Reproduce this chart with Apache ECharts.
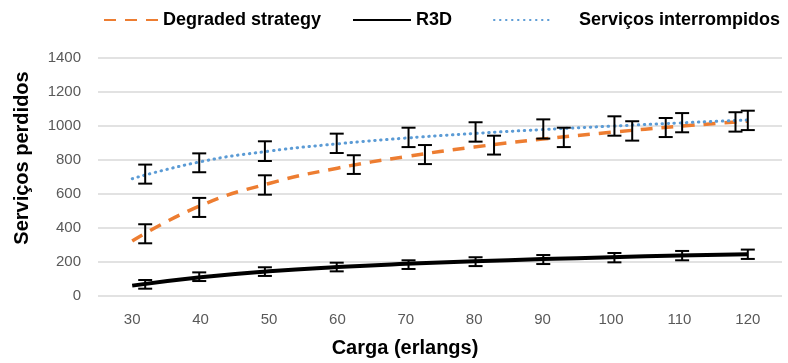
<!DOCTYPE html>
<html>
<head>
<meta charset="utf-8">
<script src="https://cdn.jsdelivr.net/npm/echarts@6/dist/echarts.min.js"></script>
<style>
html,body{margin:0;padding:0;background:#fff;}
#c{width:788px;height:363px;}
</style>
</head>
<body>
<div id="c"></div>
<script>
// ---- data ----
const seriesNames = ['Degraded strategy', 'R3D', 'Serviços interrompidos'];
const xTickLabels = [30, 40, 50, 60, 70, 80, 90, 100, 110, 120];
const yTickLabels = [0, 200, 400, 600, 800, 1000, 1200, 1400];

// trend curves
const curveX = [30, 40, 50, 60, 70, 80, 90, 100, 110, 120];
const degradedCurve = [324, 532, 662, 752, 820, 876, 923, 963, 998, 1029];
const r3dCurve = [61, 110, 145, 170, 189, 204, 217, 228, 238, 246];
const interCurve = [690, 790, 852, 895, 929, 956, 979, 999, 1018, 1035];

// error bars (x, low, high)
const degradedX = [31.9, 39.8, 49.4, 62.4, 72.8, 82.9, 93.1, 103.1, 110.4, 120.0];
const degradedLow = [310, 465, 596, 718, 776, 832, 876, 914, 963, 976];
const degradedHigh = [422, 577, 710, 828, 888, 943, 990, 1028, 1076, 1090];

const r3dX = [31.9, 39.8, 49.4, 59.9, 70.4, 80.2, 90.1, 100.5, 110.4, 120.0];
const r3dLow = [43, 88, 118, 145, 159, 176, 188, 198, 210, 218];
const r3dHigh = [94, 139, 169, 196, 210, 228, 241, 253, 265, 273];

const interX = [31.9, 39.8, 49.4, 59.9, 70.4, 80.2, 90.1, 100.5, 108.0, 118.2];
const interLow = [661, 728, 794, 841, 876, 908, 926, 943, 935, 967];
const interHigh = [773, 839, 910, 955, 990, 1022, 1039, 1057, 1047, 1081];

// ---- build ----
const zip = (xs, ys) => xs.map((x, i) => [x, ys[i]]);
const zip3 = (xs, lo, hi) => xs.map((x, i) => [x, lo[i], hi[i]]);

const errAll = [].concat(
  zip3(degradedX, degradedLow, degradedHigh),
  zip3(r3dX, r3dLow, r3dHigh),
  zip3(interX, interLow, interHigh)
);

function renderErr(params, api) {
  const x = api.value(0);
  const lo = api.coord([x, api.value(1)]);
  const hi = api.coord([x, api.value(2)]);
  const hw = 7;
  const st = { stroke: '#000', lineWidth: 2 };
  return {
    type: 'group',
    children: [
      { type: 'line', shape: { x1: lo[0], y1: lo[1], x2: hi[0], y2: hi[1] }, style: st },
      { type: 'line', shape: { x1: lo[0] - hw, y1: lo[1], x2: lo[0] + hw, y2: lo[1] }, style: st },
      { type: 'line', shape: { x1: hi[0] - hw, y1: hi[1], x2: hi[0] + hw, y2: hi[1] }, style: st }
    ]
  };
}

const FONT = '"Liberation Sans", Arial, sans-serif';
const legendText = { fontFamily: FONT, fontWeight: 'bold', fontSize: 18, color: '#000' };
const noSym = { opacity: 0, color: 'transparent', borderWidth: 0 };

const chart = echarts.init(document.getElementById('c'), null, { renderer: 'canvas' });
chart.setOption({
  animation: false,
  backgroundColor: '#fff',
  grid: { left: 98, right: 6, top: 58, bottom: 67 },
  legend: [
    { data: [seriesNames[0]], left: 103, top: 11, itemWidth: 54, itemHeight: 14, itemStyle: noSym, textStyle: legendText, padding: 0 },
    { data: [seriesNames[1]], left: 352, top: 11, itemWidth: 58, itemHeight: 14, itemStyle: noSym, textStyle: legendText, padding: 0 },
    { data: [seriesNames[2]], left: 493, top: 11, itemWidth: 58, itemHeight: 14, itemStyle: noSym,
      textStyle: Object.assign({}, legendText, { padding: [0, 0, 0, 22] }), padding: 0 }
  ],
  xAxis: {
    type: 'value', min: 25, max: 125,
    name: 'Carga (erlangs)', nameLocation: 'middle', nameGap: 42,
    nameTextStyle: { fontFamily: FONT, fontWeight: 'bold', fontSize: 20, color: '#000', padding: [0, 70, 0, 0] },
    axisLine: { show: false }, axisTick: { show: false }, splitLine: { show: false },
    axisLabel: { customValues: xTickLabels, fontFamily: FONT, fontSize: 15, color: '#595959', margin: 16 }
  },
  yAxis: {
    type: 'value', min: 0, max: 1400, interval: 200,
    name: 'Serviços perdidos', nameLocation: 'middle', nameGap: 66,
    nameTextStyle: { fontFamily: FONT, fontWeight: 'bold', fontSize: 20, color: '#000', padding: [0, 0, 0, 38] },
    axisLine: { show: false }, axisTick: { show: false },
    splitLine: { lineStyle: { color: '#d9d9d9', width: 1.5 } },
    axisLabel: { fontFamily: FONT, fontSize: 15, color: '#595959', margin: 17,
      formatter: v => yTickLabels.includes(v) ? String(v) : '' }
  },
  series: [
    { name: seriesNames[0], type: 'line', data: zip(curveX, degradedCurve), smooth: 0.5,
      symbol: 'none', color: '#ED7D31', lineStyle: { color: '#ED7D31', width: 3.5, type: [12, 9] }, z: 2 },
    { name: seriesNames[1], type: 'line', data: zip(curveX, r3dCurve), smooth: 0.5,
      symbol: 'none', color: '#000', lineStyle: { color: '#000', width: 4 }, z: 2 },
    { name: seriesNames[2], type: 'line', data: zip(curveX, interCurve), smooth: 0.5,
      symbol: 'none', color: '#5B9BD5', lineStyle: { color: '#5B9BD5', width: 3, type: [0.5, 5.5], cap: 'round' }, z: 2 },
    { name: 'err', type: 'custom', data: errAll, renderItem: renderErr, z: 5, encode: { x: 0, y: [1, 2] } }
  ]
});
</script>
</body>
</html>
